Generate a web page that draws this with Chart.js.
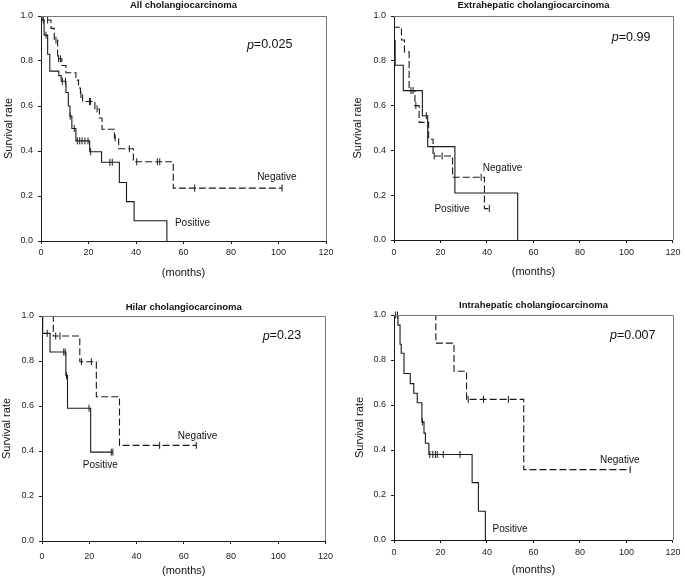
<!DOCTYPE html>
<html>
<head>
<meta charset="utf-8">
<script src="https://cdn.jsdelivr.net/npm/chart.js@4/dist/chart.umd.min.js"></script>
<style>
  html, body { margin: 0; padding: 0; background: #fff; }
  body { width: 685px; height: 578px; position: relative; overflow: hidden; }
  canvas { position: absolute; }
</style>
</head>
<body>
<canvas id="c0" width="340" height="290" style="left:0;top:0"></canvas>
<canvas id="c1" width="345" height="290" style="left:340px;top:0"></canvas>
<canvas id="c2" width="340" height="288" style="left:0;top:290px"></canvas>
<canvas id="c3" width="345" height="288" style="left:340px;top:290px"></canvas>
<script>
// axis ticks
const xTicks = [0, 20, 40, 60, 80, 100, 120];
const yTicks = [0, 0.2, 0.4, 0.6, 0.8, 1.0];

// All cholangiocarcinoma  (T = event months, S = survival after event, C = censored months)
const allNegT = [0, 0.3, 4.2, 5.6, 7.0, 8.8, 10.5, 14.7, 15.8, 16.6, 17.5, 22.7, 24.6, 25.7, 30.9, 32.7, 38.9, 55.7];
const allNegS = [1, 0.982, 0.945, 0.893, 0.81, 0.78, 0.748, 0.715, 0.68, 0.65, 0.62, 0.587, 0.547, 0.497, 0.458, 0.41, 0.352, 0.235];
const allNegC = [1.0, 2.8, 6.3, 7.4, 8.2, 16.8, 20.4, 20.9, 23.6, 31.2, 37.2, 40.3, 49.0, 50.0, 64.7, 101.5];
const allPosT = [0, 0.3, 1.3, 2.8, 3.7, 7.5, 8.5, 10.5, 11.5, 12.2, 13.0, 14.7, 20.5, 25.5, 33.0, 36.0, 39.2, 53.0];
const allPosS = [1, 0.982, 0.915, 0.83, 0.755, 0.735, 0.71, 0.66, 0.60, 0.555, 0.50, 0.445, 0.397, 0.35, 0.26, 0.175, 0.09, 0];
const allPosC = [2.1, 9.0, 10.3, 12.3, 14.0, 15.3, 16.3, 17.3, 18.5, 19.8, 20.9, 29.0, 30.0];

// Extrahepatic cholangiocarcinoma
const extNegT = [0, 0.2, 3.2, 4.5, 6.5, 9.0, 10.8, 14.9, 16.8, 25.2, 38.9];
const extNegS = [1, 0.95, 0.893, 0.84, 0.667, 0.60, 0.525, 0.45, 0.375, 0.28, 0.14];
const extNegC = [7.3, 8.2, 9.4, 17.3, 20.7, 37.5, 41.0];
const extPosT = [0, 0.2, 0.5, 4.0, 12.2, 14.5, 26.2, 53.2];
const extPosS = [1, 0.89, 0.78, 0.667, 0.555, 0.417, 0.21, 0];
const extPosC = [13.9];

// Hilar cholangiocarcinoma
const hilNegT = [0, 4.8, 16.0, 23.0, 32.8];
const hilNegS = [1, 0.911, 0.797, 0.641, 0.425];
const hilNegC = [5.8, 7.6, 16.7, 20.9, 49.8, 65.3];
const hilPosT = [0, 0.3, 3.4, 10.1, 10.8, 20.6];
const hilPosS = [1, 0.923, 0.84, 0.735, 0.59, 0.395];
const hilPosC = [2.2, 9.2, 9.8, 10.4, 19.9, 29.3, 30.0];

// Intrahepatic cholangiocarcinoma
const intNegT = [0, 18.0, 25.8, 31.2, 55.8];
const intNegS = [1, 0.875, 0.75, 0.625, 0.313];
const intNegC = [31.9, 38.5, 49.2, 101.6];
const intPosT = [0, 1.7, 2.6, 3.1, 4.3, 7.0, 8.5, 10.0, 12.0, 12.9, 13.5, 15.0, 33.6, 36.3, 39.3];
const intPosS = [1, 0.955, 0.87, 0.83, 0.74, 0.695, 0.652, 0.61, 0.525, 0.475, 0.43, 0.38, 0.255, 0.128, 0];
const intPosC = [0.7, 1.5, 12.2, 15.4, 16.7, 17.8, 18.6, 21.2, 28.4];

const pValues = ['0.025', '0.99', '0.23', '0.007'];
const titles = ['All cholangiocarcinoma', 'Extrahepatic cholangiocarcinoma',
                'Hilar cholangiocarcinoma', 'Intrahepatic cholangiocarcinoma'];

const FONT = '"Liberation Sans", Arial, Helvetica, sans-serif';
const INK = '#1a1a1a';
Chart.defaults.font.family = FONT;
Chart.defaults.color = '#222';

// canvas sizes and plot area edges, in canvas pixels
const layouts = [
  { w: 340, h: 290, l: 41, t: 16, r: 326, b: 241, titleY: 5,    yTitlePad: 2.4,  xPad: 3.5, xTitlePad: 10.4 },
  { w: 345, h: 290, l: 54, t: 16, r: 337, b: 240, titleY: 5,    yTitlePad: 10.9, xPad: 4.5, xTitlePad: 11.4 },
  { w: 340, h: 288, l: 42, t: 26, r: 326, b: 251, titleY: 17,   yTitlePad: 0.7,  xPad: 7,   xTitlePad: 0 },
  { w: 345, h: 288, l: 54, t: 25, r: 337, b: 250, titleY: 15.7, yTitlePad: 13.4, xPad: 4.5, xTitlePad: 1.4 }
];

// where the p value and the group names sit (data coordinates of their left/middle)
const notes = [
  { p: [86.7, 0.871], neg: [91, 0.284],   pos: [56.4, 0.08] },
  { p: [93.7, 0.906], neg: [38.2, 0.321], pos: [17.4, 0.138] },
  { p: [93.4, 0.911], neg: [57.5, 0.467], pos: [17.3, 0.338] },
  { p: [92.9, 0.907], neg: [88.6, 0.356], pos: [42.4, 0.049] }
];

function stepValue(T, S, t) {
  let v = S[0];
  for (let i = 0; i < T.length; i++) if (T[i] <= t) v = S[i];
  return v;
}

function curve(T, S, C) {
  const pts = T.map((t, i) => ({ x: t, y: S[i] }));
  const end = Math.max(0, ...C);
  if (end > T[T.length - 1]) pts.push({ x: end, y: S[S.length - 1] });
  return pts;
}

function groupSets(T, S, C, dashed) {
  return [
    { data: curve(T, S, C), borderColor: INK, borderWidth: 1.1, borderDash: dashed ? [7, 3] : [],
      pointRadius: 0, stepped: 'before', tension: 0, fill: false },
    { data: C.map(t => ({ x: t, y: stepValue(T, S, t) })), showLine: false,
      pointStyle: 'line', pointRotation: 90, pointRadius: 3.5,
      pointBorderColor: INK, pointBorderWidth: 1, clip: 5 }
  ];
}

const notesPlugin = {
  id: 'notes',
  afterDraw(chart, args, opts) {
    const { ctx, chartArea: a, scales: { x, y } } = chart;
    ctx.save();
    // grey frame on top and right of plot
    ctx.strokeStyle = '#777';
    ctx.lineWidth = 1;
    ctx.beginPath();
    ctx.moveTo(a.left, Math.round(a.top) + 0.5);
    ctx.lineTo(Math.round(a.right) + 0.5, Math.round(a.top) + 0.5);
    ctx.lineTo(Math.round(a.right) + 0.5, a.bottom);
    ctx.stroke();

    const n = opts.n;
    ctx.fillStyle = '#111';
    ctx.textBaseline = 'middle';
    ctx.textAlign = 'left';
    let px = x.getPixelForValue(n.p[0]), py = y.getPixelForValue(n.p[1]);
    ctx.font = 'italic 12.5px ' + FONT;
    ctx.fillText('p', px, py);
    const w = ctx.measureText('p').width;
    ctx.font = '12.5px ' + FONT;
    ctx.fillText('=' + opts.pv, px + w, py);

    ctx.font = '10px ' + FONT;
    ctx.fillText('Negative', x.getPixelForValue(n.neg[0]), y.getPixelForValue(n.neg[1]));
    ctx.fillText('Positive', x.getPixelForValue(n.pos[0]), y.getPixelForValue(n.pos[1]));
    ctx.restore();
  }
};

function makeChart(i, datasets) {
  const L = layouts[i];
  const titleTop = Math.max(0, L.titleY - 5.7);
  const titleBottom = L.t - titleTop - 11.4;
  return new Chart(document.getElementById('c' + i), {
    type: 'line',
    data: { datasets: datasets },
    options: {
      responsive: false,
      animation: false,
      layout: { padding: { left: 0, top: 0, bottom: 0, right: L.w - L.r } },
      plugins: {
        legend: { display: false },
        tooltip: { enabled: false },
        title: { display: true, text: titles[i], fullSize: false, color: '#111',
                 font: { size: 9.5, weight: 'bold' }, padding: { top: titleTop, bottom: titleBottom } },
        notes: { n: notes[i], pv: pValues[i] }
      },
      scales: {
        x: {
          type: 'linear', min: xTicks[0], max: xTicks[xTicks.length - 1],
          afterBuildTicks: s => { s.ticks = xTicks.map(v => ({ value: v })); },
          ticks: { font: { size: 9 }, padding: L.xPad, maxRotation: 0, color: '#222' },
          grid: { drawOnChartArea: false, tickLength: 3, color: INK },
          border: { color: INK },
          title: { display: true, text: '(months)', font: { size: 11 }, color: '#111',
                   padding: { top: 0, bottom: L.xTitlePad } },
          afterFit: s => { s.height = L.h - L.b; }
        },
        y: {
          min: yTicks[0], max: yTicks[yTicks.length - 1],
          afterBuildTicks: s => { s.ticks = yTicks.map(v => ({ value: v })); },
          ticks: { font: { size: 9 }, padding: 5, color: '#222', callback: v => Number(v).toFixed(1) },
          grid: { drawOnChartArea: false, tickLength: 3, color: INK },
          border: { color: INK },
          title: { display: true, text: 'Survival rate', font: { size: 11 }, color: '#111',
                   padding: { top: L.yTitlePad, bottom: 0 } },
          afterFit: s => { s.width = L.l; }
        }
      }
    },
    plugins: [notesPlugin]
  });
}

makeChart(0, [...groupSets(allNegT, allNegS, allNegC, true), ...groupSets(allPosT, allPosS, allPosC, false)]);
makeChart(1, [...groupSets(extNegT, extNegS, extNegC, true), ...groupSets(extPosT, extPosS, extPosC, false)]);
makeChart(2, [...groupSets(hilNegT, hilNegS, hilNegC, true), ...groupSets(hilPosT, hilPosS, hilPosC, false)]);
makeChart(3, [...groupSets(intNegT, intNegS, intNegC, true), ...groupSets(intPosT, intPosS, intPosC, false)]);
</script>
</body>
</html>
